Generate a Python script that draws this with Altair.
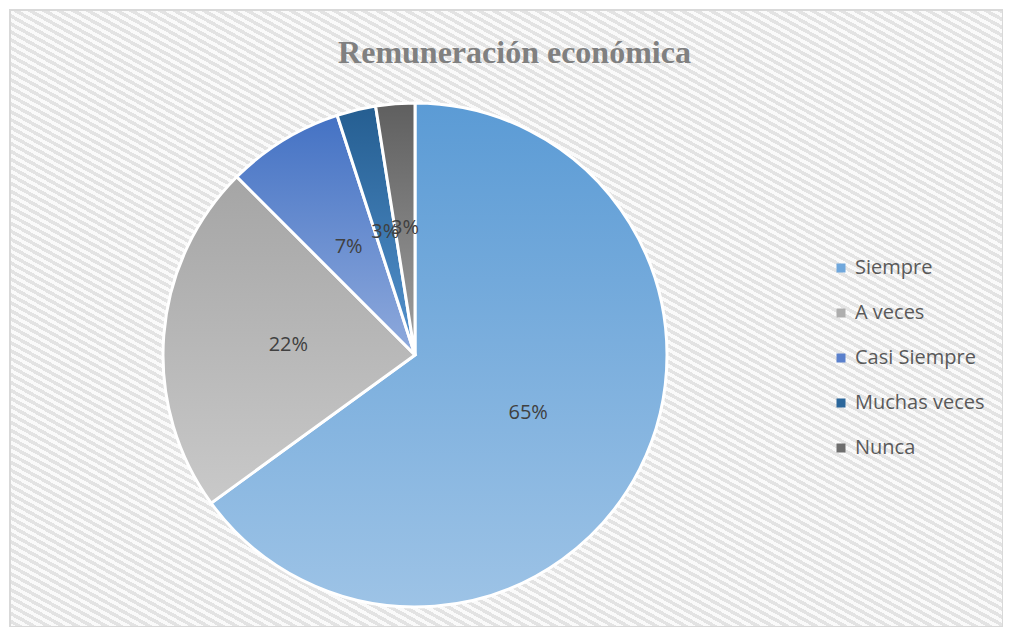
import math
import altair as alt
import pandas as pd

categories = ["Siempre", "A veces", "Casi Siempre", "Muchas veces", "Nunca"]
values = [65, 22.5, 7.5, 2.5, 2.5]
labels = ["65%", "22%", "7%", "3%", "3%"]
order = [1, 2, 3, 4, 5]

legend_colors = ["#6FA7DC", "#AEAEAE", "#5A80CC", "#2C679B", "#6E6E6E"]
grad_top = ["#5B9BD5", "#A5A5A5", "#4472C4", "#255E91", "#5F5F5F"]
grad_bottom = ["#9DC3E6", "#C9C9C9", "#8FAADC", "#5493CF", "#A0A0A0"]

df = pd.DataFrame({"cat": categories, "value": values, "label": labels, "ord": order})

W, H = 993, 617
CX, CY, R = 405, 345, 252


def vgrad(top, bottom):
    return {"gradient": "linear", "x1": 0, "y1": 0, "x2": 0, "y2": 1,
            "stops": [{"offset": 0, "color": top}, {"offset": 1, "color": bottom}]}


# diagonal hatch background (stripes descending to the right)
slope, period = 0.55, 7.0
gx, gy = slope / H, -1.0 / W
gn = math.hypot(gx, gy)
ux, uy = gx / gn, gy / gn
d = ux * 1 + uy * (-1)
p1 = (0.0, 1.0)
p2 = (p1[0] + d * ux, p1[1] + d * uy)
span = (slope * W + H) / math.hypot(1, slope)
n = int(round(span / period))
stops = []
for i in range(n):
    a = i / n
    b = (i + 0.5) / n
    c = (i + 1) / n
    stops += [{"offset": a, "color": "#FAFAFA"}, {"offset": b, "color": "#FAFAFA"},
              {"offset": b, "color": "#E3E3E3"}, {"offset": c, "color": "#E3E3E3"}]
hatch = {"gradient": "linear", "x1": p1[0], "y1": p1[1], "x2": p2[0], "y2": p2[1], "stops": stops}

bg = alt.Chart(alt.Data(values=[{"a": 1}])).mark_rect(
    fill=hatch, stroke="#D9D9D9", strokeWidth=2
).encode(x=alt.value(0), x2=alt.value("width"), y=alt.value(0), y2=alt.value("height"))

conds = [{"test": f"datum.cat === '{c}'", "value": vgrad(t, b)}
         for c, t, b in zip(categories, grad_top, grad_bottom)]

pie = alt.Chart(df).mark_arc(outerRadius=R, stroke="white", strokeWidth=3).encode(
    theta=alt.Theta("value:Q", stack=True),
    order=alt.Order("ord:Q"),
    color=alt.Color(
        field="cat", type="nominal",
        scale=alt.Scale(domain=categories, range=legend_colors),
        sort=categories,
        condition=conds,
        legend=alt.Legend(
            title=None, orient="none", legendX=821, legendY=248,
            symbolType="square", symbolSize=81, symbolStrokeWidth=0,
            labelFont="Open Sans", labelFontSize=20, labelColor="#595959",
            labelOffset=4, rowPadding=25, padding=0, labelLimit=300,
        ),
    ),
    x=alt.value(CX), y=alt.value(CY),
)

text = alt.Chart(df).mark_text(
    radius=127, font="Open Sans", fontSize=20, color="#404040"
).encode(
    theta=alt.Theta("value:Q", stack=True),
    order=alt.Order("ord:Q"),
    text="label:N",
    x=alt.value(CX), y=alt.value(CY),
)

chart = alt.layer(bg, pie, text).properties(
    width=W, height=H,
    autosize=alt.AutoSizeParams(type="none"),
    padding={"left": 2, "top": 2, "right": 0, "bottom": 0},
    title=alt.TitleParams(
        text="Remuneración económica", font="Liberation Serif", fontSize=32,
        fontWeight="bold", color="#808080", anchor="middle", offset=-86,
        baseline="alphabetic", dx=8,
    ),
).configure_view(stroke=None)

chart.save("out.html", embed_options={"renderer": "svg", "actions": False})
